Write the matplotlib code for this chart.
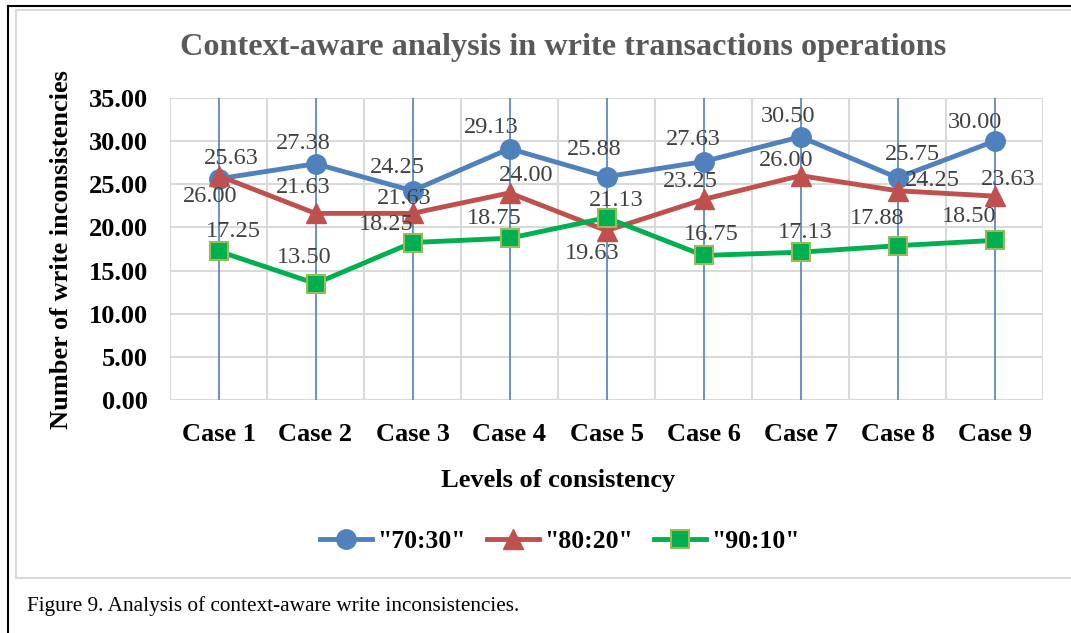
import matplotlib
matplotlib.use("Agg")
import matplotlib.pyplot as plt
from matplotlib.lines import Line2D

plt.rcParams['font.family'] = ['Liberation Serif', 'DejaVu Serif']

cases = ["Case 1", "Case 2", "Case 3", "Case 4", "Case 5",
         "Case 6", "Case 7", "Case 8", "Case 9"]
s7030 = [25.63, 27.38, 24.25, 29.13, 25.88, 27.63, 30.50, 25.75, 30.00]
s8020 = [26.00, 21.63, 21.63, 24.00, 19.63, 23.25, 26.00, 24.25, 23.63]
s9010 = [17.25, 13.50, 18.25, 18.75, 21.13, 16.75, 17.13, 17.88, 18.50]
names = ['"70:30"', '"80:20"', '"90:10"']
yticks = [0, 5, 10, 15, 20, 25, 30, 35]

# label offsets in pixels (label centre relative to point)
off7030 = [(13, 20), (-12, 20), (-15, 23), (-18, 21), (-12, 27),
           (-10, 22), (-12, 20), (15, 23), (-20, 19)]
off8020 = [(-8, -21), (-12, 26), (-8, 15), (17, 17), (-14, -23),
           (-13, 18), (-14, 15), (35, 10), (14, 17)]
off9010 = [(15, 20), (-11, 26), (-26, 18), (-15, 20), (10, 17),
           (8, 21), (5, 20), (-20, 27), (-25, 24)]

fig = plt.figure(figsize=(10.71, 6.33), dpi=100)
ax = fig.add_axes([170 / 1071, 1 - 400 / 633, 873 / 1071, 302 / 633])

x = list(range(len(cases)))
ax.set_xlim(-0.5, len(cases) - 0.5)
ax.set_ylim(0, 35)

# grid: gray at category boundaries and y ticks, blue at categories
for i in range(len(cases) + 1):
    ax.axvline(i - 0.5, color="#D9D9D9", lw=1.5, zorder=0)
for v in yticks:
    ax.axhline(v, color="#D9D9D9", lw=1.5, zorder=0)
for i in x:
    ax.axvline(i, color="#4F81BD", lw=1.2, zorder=1)

styles = [
    dict(color="#4F81BD", marker="o", markersize=14, mfc="#4F81BD", mec="#4F81BD"),
    dict(color="#C0504D", marker="^", markersize=15, mfc="#C0504D", mec="#C0504D"),
    dict(color="#00B050", marker="s", markersize=13, mfc="#00B050", mec="#9BBB59", mew=1.5),
]
series = [s7030, s8020, s9010]
offsets = [off7030, off8020, off9010]
for vals, st in zip(series, styles):
    ax.plot(x, vals, lw=3.5, zorder=3, **st)
for vals, offs in zip(series, offsets):
    for xi, v, (dx, dy) in zip(x, vals, offs):
        ax.annotate(f"{v:.2f}", (xi, v), xytext=(dx, dy), textcoords="offset pixels",
                    ha="center", va="center", fontsize=17.5, color="#404040", zorder=5)

for sp in ax.spines.values():
    sp.set_visible(False)
ax.set_xticks(x)
ax.set_xticklabels(cases, fontsize=19, fontweight="bold")
ax.set_yticks(yticks)
ax.set_yticklabels([f"{v:.2f}" for v in yticks], fontsize=19, fontweight="bold")
ax.tick_params(length=0)
ax.tick_params(axis="x", pad=16.5)
ax.tick_params(axis="y", pad=16)

fig.text(563 / 1071, 1 - 47 / 633, "Context-aware analysis in write transactions operations",
         ha="center", va="center", fontsize=23.2, fontweight="bold", color="#595959")
fig.text(62 / 1071, 1 - 250 / 633, "Number of write inconsistencies", rotation=90,
         ha="center", va="center", fontsize=19, fontweight="bold")
fig.text(558 / 1071, 1 - 480 / 633, "Levels of consistency",
         ha="center", va="center", fontsize=19, fontweight="bold")

handles = [Line2D([], [], lw=3.5, **st) for st in styles]
fig.legend(handles, names, loc="center", bbox_to_anchor=(560 / 1071, 1 - 541 / 633),
           ncol=3, frameon=False, prop=dict(size=18.5, weight="bold"),
           handlelength=2.0, handletextpad=0.2, columnspacing=0.85)

fig.text(27 / 1071, 1 - 606 / 633, "Figure 9. Analysis of context-aware write inconsistencies.",
         ha="left", va="center", fontsize=15.3)

# frame lines around the figure
W, H = 1071, 633
fig.add_artist(Line2D([8 / W, 8 / W], [0, 1 - 6 / H], color="black", lw=1.5))
fig.add_artist(Line2D([8 / W, 1], [1 - 6 / H, 1 - 6 / H], color="black", lw=1.5))
fig.add_artist(Line2D([16 / W, 16 / W], [1 - 578 / H, 1 - 10 / H], color="#D9D9D9", lw=1.5))
fig.add_artist(Line2D([16 / W, 1], [1 - 10 / H, 1 - 10 / H], color="#D9D9D9", lw=1.5))
fig.add_artist(Line2D([16 / W, 1], [1 - 578 / H, 1 - 578 / H], color="#D9D9D9", lw=1.5))

fig.savefig("out.png", dpi=100)
